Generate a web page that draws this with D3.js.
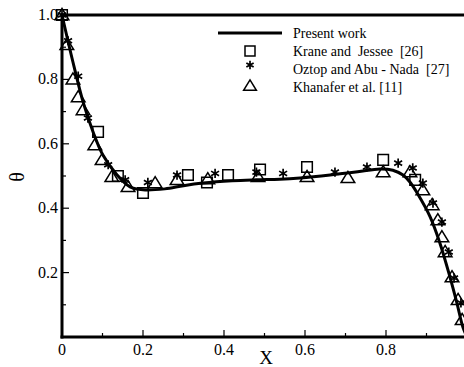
<!DOCTYPE html>
<html>
<head>
<meta charset="utf-8">
<script src="https://cdn.jsdelivr.net/npm/d3@7"></script>
<style>
  html, body { margin: 0; padding: 0; background: #fff; }
  svg { display: block; }
</style>
</head>
<body>
<script>
// Present work: temperature profile theta along X
const curveX = [0, 0.027, 0.052, 0.077, 0.101, 0.136, 0.168, 0.2, 0.254, 0.3, 0.348, 0.42, 0.48, 0.538, 0.588, 0.662, 0.73, 0.785, 0.817, 0.842, 0.86, 0.877, 0.909, 0.933, 0.958, 0.975, 0.99, 1.0];
const curveTheta = [1.0, 0.854, 0.73, 0.636, 0.565, 0.503, 0.466, 0.457, 0.46, 0.47, 0.478, 0.485, 0.488, 0.49, 0.494, 0.503, 0.513, 0.522, 0.518, 0.503, 0.48, 0.447, 0.373, 0.292, 0.186, 0.106, 0.03, 0.0];

// Krane and Jessee [26]
const kraneX = [0, 0.089, 0.138, 0.2, 0.311, 0.358, 0.41, 0.489, 0.605, 0.793, 0.872];
const kraneTheta = [1.0, 0.637, 0.5, 0.447, 0.503, 0.48, 0.503, 0.52, 0.528, 0.55, 0.488];

// Oztop and Abu - Nada [27]
const oztopX = [0, 0.015, 0.04, 0.064, 0.114, 0.156, 0.212, 0.284, 0.378, 0.48, 0.546, 0.674, 0.753, 0.83, 0.866, 0.891, 0.916, 0.938, 0.955, 0.968, 0.985];
const oztopTheta = [1.0, 0.92, 0.81, 0.68, 0.535, 0.488, 0.48, 0.503, 0.508, 0.512, 0.508, 0.512, 0.528, 0.54, 0.525, 0.478, 0.416, 0.357, 0.264, 0.183, 0.106];

// Khanafer et al. [11]
const khanX = [0, 0.012, 0.027, 0.04, 0.052, 0.081, 0.099, 0.123, 0.163, 0.23, 0.284, 0.36, 0.484, 0.605, 0.706, 0.793, 0.859, 0.891, 0.914, 0.928, 0.938, 0.946, 0.963, 0.978, 0.988];
const khanTheta = [1.0, 0.907, 0.8, 0.745, 0.705, 0.596, 0.55, 0.497, 0.466, 0.478, 0.488, 0.49, 0.497, 0.497, 0.494, 0.512, 0.512, 0.456, 0.41, 0.363, 0.31, 0.264, 0.186, 0.115, 0.053];

const xTicks = [0, 0.2, 0.4, 0.6, 0.8];
const yTicks = [0.2, 0.4, 0.6, 0.8, 1.0];
const xMinor = [0.1, 0.3, 0.5, 0.7, 0.9];
const yMinor = [0.1, 0.3, 0.5, 0.7, 0.9];

const legendLabels = ["Present work", "Krane and  Jessee  [26]", "Oztop and Abu - Nada  [27]", "Khanafer et al. [11]"];

const FONT = "'Liberation Serif', 'Times New Roman', Times, serif";
const W = 464, H = 367;
const svg = d3.select("body").append("svg").attr("width", W).attr("height", H)
  .attr("font-family", FONT);

const x = d3.scaleLinear().domain([0, 1]).range([62, 467]);
const y = d3.scaleLinear().domain([0, 1]).range([337, 15]);

// frame: left, bottom and top edges
svg.append("line").attr("x1", x(0)).attr("x2", x(0)).attr("y1", y(1) - 1.5).attr("y2", y(0) + 1.5)
  .attr("stroke", "#000").attr("stroke-width", 3);
svg.append("line").attr("x1", x(0) - 1.5).attr("x2", W).attr("y1", y(0)).attr("y2", y(0))
  .attr("stroke", "#000").attr("stroke-width", 3);
svg.append("line").attr("x1", x(0) - 1.5).attr("x2", W).attr("y1", y(1)).attr("y2", y(1))
  .attr("stroke", "#000").attr("stroke-width", 3);

// inward ticks
const tickG = svg.append("g").attr("stroke", "#000").attr("stroke-width", 1.2);
xTicks.concat([1.0]).forEach(v => tickG.append("line").attr("x1", x(v)).attr("x2", x(v)).attr("y1", y(0)).attr("y2", y(0) - 7));
xMinor.forEach(v => tickG.append("line").attr("x1", x(v)).attr("x2", x(v)).attr("y1", y(0)).attr("y2", y(0) - 4));
yTicks.forEach(v => tickG.append("line").attr("x1", x(0)).attr("x2", x(0) + 7).attr("y1", y(v)).attr("y2", y(v)));
yMinor.forEach(v => tickG.append("line").attr("x1", x(0)).attr("x2", x(0) + 4).attr("y1", y(v)).attr("y2", y(v)));

// tick labels
const fmt = v => v === 0 ? "0" : d3.format(".1f")(v);
svg.append("g").selectAll("text").data(xTicks).join("text")
  .attr("font-family", FONT)
  .attr("x", d => x(d)).attr("y", 355).attr("text-anchor", "middle")
  .attr("font-size", 16).text(fmt);
svg.append("g").selectAll("text").data(yTicks).join("text")
  .attr("font-family", FONT)
  .attr("x", 58).attr("y", d => y(d) + 5).attr("text-anchor", "end")
  .attr("font-size", 16).text(fmt);

// axis titles
svg.append("text").attr("font-family", FONT).attr("x", 266).attr("y", 364).attr("text-anchor", "middle")
  .attr("font-size", 19).text("X");
svg.append("text").attr("font-family", FONT).attr("transform", "translate(24,177) rotate(-90)").attr("text-anchor", "middle")
  .attr("font-size", 20).text("θ");

// marker shapes
const sq = s => `M${-s},${-s}h${2 * s}v${2 * s}h${-2 * s}Z`;
const tri = s => `M0,${-s * 1.05}L${s * 1.1},${s * 0.75}L${-s * 1.1},${s * 0.75}Z`;
const star = s => {
  let p = "";
  for (let i = 0; i < 3; i++) {
    const a = Math.PI / 2 + i * Math.PI / 3;
    const dx = s * Math.cos(a), dy = s * Math.sin(a);
    p += `M${-dx},${-dy}L${dx},${dy}`;
  }
  return p;
};

const plot = svg.append("g");

// present work curve
plot.append("path")
  .datum(d3.zip(curveX, curveTheta))
  .attr("fill", "none").attr("stroke", "#000").attr("stroke-width", 3)
  .attr("d", d3.line().x(d => x(d[0])).y(d => y(d[1])).curve(d3.curveCatmullRom.alpha(0.5)));

function drawMarkers(xs, ys, pathFn, sw) {
  plot.append("g").selectAll("path").data(d3.zip(xs, ys)).join("path")
    .attr("transform", d => `translate(${x(d[0])},${y(d[1])})`)
    .attr("d", pathFn).attr("fill", "none").attr("stroke", "#000").attr("stroke-width", sw);
}
drawMarkers(khanX, khanTheta, () => tri(6.2), 1.5);
drawMarkers(kraneX, kraneTheta, () => sq(5.3), 1.5);
drawMarkers(oztopX, oztopTheta, () => star(4.6), 1.7);

// legend
const leg = svg.append("g");
const legY = [33, 51, 69, 87];
leg.append("line").attr("x1", 218).attr("x2", 282).attr("y1", legY[0]).attr("y2", legY[0])
  .attr("stroke", "#000").attr("stroke-width", 3);
leg.append("path").attr("transform", `translate(250,${legY[1]})`).attr("d", sq(5)).attr("fill", "none").attr("stroke", "#000").attr("stroke-width", 1.5);
leg.append("path").attr("transform", `translate(250,${legY[2] - 4})`).attr("d", star(4.2)).attr("fill", "none").attr("stroke", "#000").attr("stroke-width", 1.7);
leg.append("path").attr("transform", `translate(250,${legY[3] - 1})`).attr("d", tri(5.8)).attr("fill", "none").attr("stroke", "#000").attr("stroke-width", 1.5);
leg.selectAll("text").data(legendLabels).join("text")
  .attr("font-family", FONT)
  .attr("x", 293).attr("y", (d, i) => legY[i] + 4.5)
  .attr("font-size", 14).attr("xml:space", "preserve").style("white-space", "pre").text(d => d);
</script>
</body>
</html>
